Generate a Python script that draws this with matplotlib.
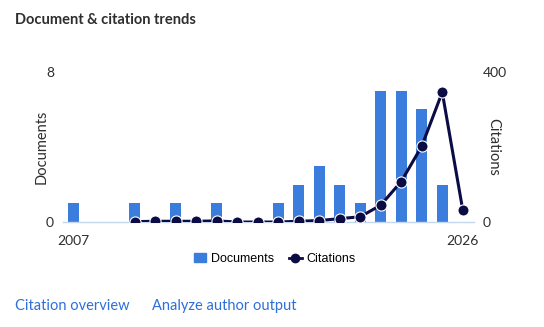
import matplotlib
matplotlib.use("Agg")
import matplotlib.pyplot as plt
from matplotlib.lines import Line2D
from matplotlib.patches import Patch

# data
years = list(range(2007, 2027))
documents = [1, 0, 0, 1, 0, 1, 0, 1, 0, 0, 1, 2, 3, 2, 1, 7, 7, 6, 2, 0]
cit_years = list(range(2010, 2027))
citations = [1, 2, 2, 2, 3, 0, 0, 0, 2, 4, 9, 14, 45, 108, 202, 346, 32]

bar_color = "#3b7ddd"
line_color = "#0b0b45"
text_color = "#2e2e2e"
link_color = "#2e6fd9"

plt.rcParams['font.family'] = ['Lato', 'DejaVu Sans']

fig = plt.figure(figsize=(5.44, 3.27), dpi=100)
ax = fig.add_axes([0.116, 0.321, 0.755, 0.459])
ax2 = ax.twinx()

ax.bar(years, documents, width=0.54, color=bar_color, zorder=2)
ax.set_xlim(2006.51, 2026.54)
ax.set_ylim(0, 8)
ax2.set_ylim(0, 400)
ax2.plot(cit_years, citations, color=line_color, lw=2.2, marker='o', ms=8,
         mfc=line_color, mec='white', mew=0.8, zorder=3)

for a in (ax, ax2):
    for s in a.spines.values():
        s.set_visible(False)
    a.tick_params(length=0, colors=text_color, labelsize=10)
ax.spines['bottom'].set_visible(True)
ax.spines['bottom'].set_color('#c5d7ee')
ax.spines['bottom'].set_linewidth(1)

ax.set_yticks([0, 8])
ax2.set_yticks([0, 400])
ax.set_xticks([2007, 2026])
ax.tick_params(axis='x', pad=9)
ax.tick_params(axis='y', pad=6.5)
ax2.tick_params(axis='y', pad=6.5)

ax.set_ylabel("Documents", color=text_color, fontsize=10.5, labelpad=0)
ax2.set_ylabel("Citations", color=text_color, fontsize=10.5, rotation=270,
               labelpad=10)
ax.yaxis.set_label_coords(-0.036, 0.5)
ax2.yaxis.set_label_coords(1.065, 0.5)

handles = [Patch(color=bar_color, label="Documents"),
           Line2D([], [], color=line_color, lw=2, marker='o', ms=6,
                  label="Citations")]
fig.legend(handles=handles, loc='center', bbox_to_anchor=(0.505, 0.208),
           ncol=2, frameon=False, fontsize=9, handlelength=1.0,
           handleheight=0.7, handletextpad=0.4, columnspacing=1.2,
           prop={'family': ['Liberation Sans', 'DejaVu Sans'], 'size': 9})

fig.text(0.028, 0.94, "Document & citation trends", fontsize=10.5,
         fontweight='bold', color=text_color, va='center')
fig.text(0.028, 0.064, "Citation overview", fontsize=10.5, color=link_color,
         va='center')
fig.text(0.28, 0.064, "Analyze author output", fontsize=10.5,
         color=link_color, va='center')

fig.savefig("out.png", dpi=100)
